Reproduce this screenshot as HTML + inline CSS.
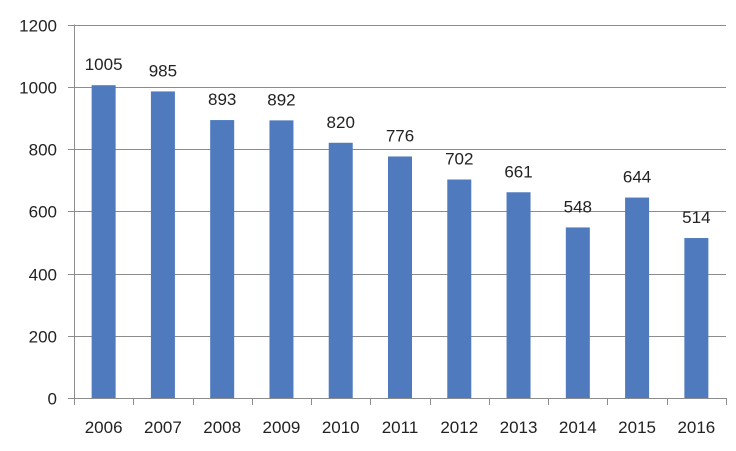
<!DOCTYPE html>
<html><head><meta charset="utf-8"><style>
body{margin:0;background:#fff;}
svg{display:block;font-family:"Liberation Sans",sans-serif;}
</style></head><body>
<svg id="chart" width="736" height="451" viewBox="0 0 736 451"></svg>
<script>
const categories=["2006","2007","2008","2009","2010","2011","2012","2013","2014","2015","2016"];
const values=[1005,985,893,892,820,776,702,661,548,644,514];
const yTicks=[0,200,400,600,800,1000,1200];
const svg=document.getElementById('chart');
const NS='http://www.w3.org/2000/svg';
const x0=74,x1=726,y0=398,y1=24.5,yMax=1200;
const band=(x1-x0)/categories.length;
const yS=v=>y0-(v/yMax)*(y0-y1);
const xC=i=>x0+band*(i+0.5);
function mk(tag,attrs,txt){const e=document.createElementNS(NS,tag);for(const k in attrs)e.setAttribute(k,attrs[k]);if(txt!==undefined)e.textContent=txt;svg.appendChild(e);return e;}
yTicks.forEach(t=>{
  const y=Math.round(yS(t))+0.5;
  const g=mk('line',{x1:68,x2:x1,y1:y,y2:y,stroke:'#8c8c8c','stroke-width':1});
  
  
  const l=mk('text',{x:57,y:y+6,'text-anchor':'end','font-size':17,fill:'#222'},String(t));
  
  
});
const ax=mk('line',{x1:x0+0.5,x2:x0+0.5,y1:y1,y2:y0,stroke:'#8c8c8c','stroke-width':1});


for(let i=0;i<=categories.length;i++){
  const x=Math.round(x0+band*i)+0.5;
  const t=mk('line',{x1:x,x2:x,y1:y0,y2:y0+7,stroke:'#8c8c8c','stroke-width':1});
  
  
}
categories.forEach((c,i)=>{
  const cx=xC(i),v=values[i],bw=24;
  const r=mk('rect',{x:cx-bw/2,y:yS(v),width:bw,height:y0-yS(v),fill:'#4f7bbe'});
  
  
  const vl=mk('text',{x:cx,y:yS(v)-15,'text-anchor':'middle','font-size':17,fill:'#222'},String(v));
  
  
  const xl=mk('text',{x:cx,y:433,'text-anchor':'middle','font-size':17,fill:'#222'},c);
  
  
});
</script>
</body></html>
